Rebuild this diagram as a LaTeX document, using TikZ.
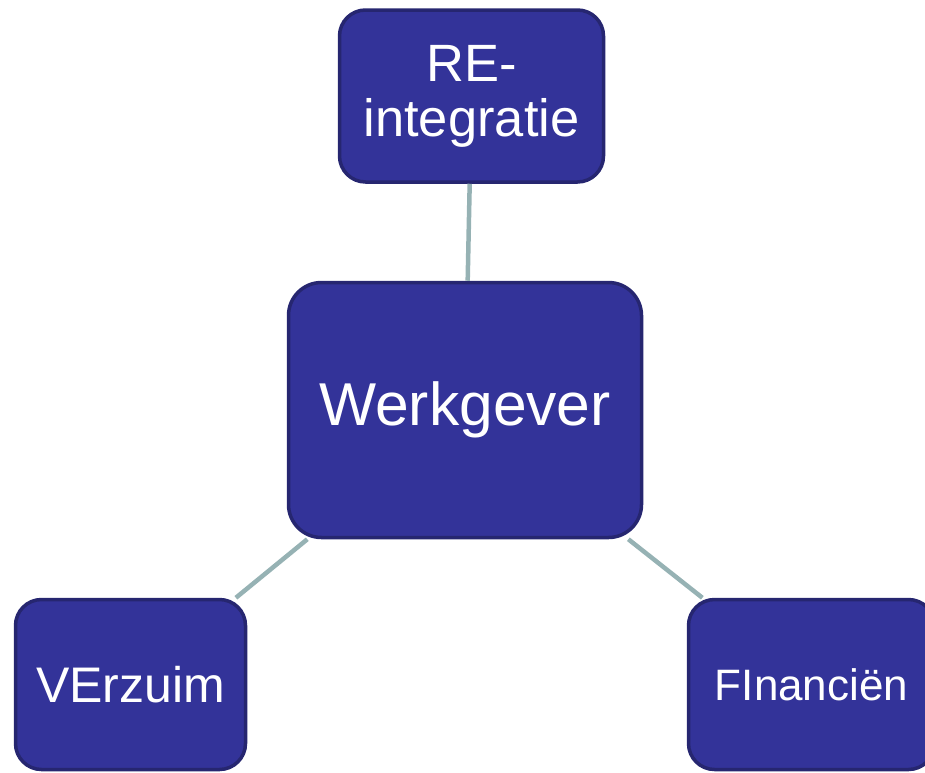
\documentclass[tikz,border=0pt]{standalone}
\usepackage{fontspec}
\setmainfont{Liberation Sans}
\definecolor{boxfill}{RGB}{51,51,153}
\definecolor{boxline}{RGB}{38,38,112}
\definecolor{conn}{RGB}{150,178,180}
\begin{document}
\begin{tikzpicture}[x=1pt,y=-1pt,
  box/.style={draw=boxline,fill=boxfill,line width=3.5pt,rounded corners=#1,
    text=white,inner sep=0pt,align=center},
  box/.default=26pt,
  link/.style={draw=conn,line width=4.5pt}]
\useasboundingbox (0,0) rectangle (925,772);
\node[box=33pt,minimum width=353pt,minimum height=255pt,
  font=\fontsize{60.5}{68}\selectfont] (w) at (465,410) {Werkgever};
\node[box,minimum width=264pt,minimum height=172pt,
  font=\fontsize{52.5}{55}\selectfont] (re) at (471.5,96) {RE-\\integratie};
\node[box,minimum width=230pt,minimum height=170pt,
  font=\fontsize{50}{58}\selectfont] (v) at (130.5,684.5) {VErzuim};
\node[box,minimum width=246pt,minimum height=170pt,
  font=\fontsize{44}{52}\selectfont] (f) at (811.5,684.5) {FInanciën};
\draw[link] (w) -- (re);
\draw[link] (w) -- (v);
\draw[link] (w) -- (f);
\end{tikzpicture}
\end{document}
